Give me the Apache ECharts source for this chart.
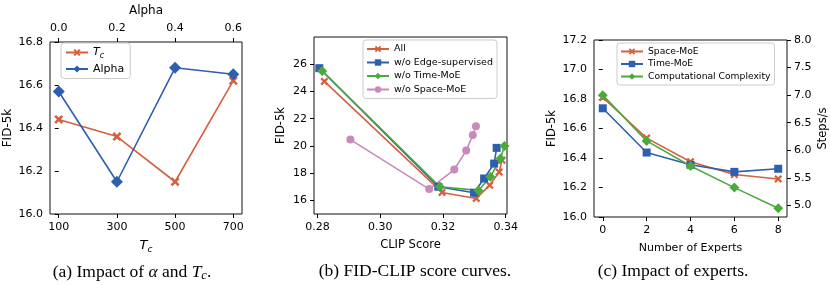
<!DOCTYPE html>
<html><head><meta charset="utf-8">
<script src="https://cdn.jsdelivr.net/npm/echarts@6/dist/echarts.min.js"></script>
<style>html,body{margin:0;padding:0;background:#fff}#c{width:830px;height:285px}</style>
</head><body><div id="c"></div>
<script>
// (a)
const tcX = [100, 300, 500, 700];
const tcY = [16.44, 16.36, 16.15, 16.62];
const alphaX = [0.0, 0.2, 0.4, 0.6];
const alphaY = [16.57, 16.15, 16.68, 16.65];
const aXTicks = [100, 300, 500, 700];
const aTopTicks = [0.0, 0.2, 0.4, 0.6];
// (b)
const allX = [0.2822, 0.3197, 0.3306, 0.3349, 0.3379, 0.3388];
const allY = [24.75, 16.56, 16.12, 17.10, 18.06, 18.94];
const edgeX = [0.2806, 0.3185, 0.3299, 0.3331, 0.3363, 0.3371];
const edgeY = [25.73, 16.98, 16.54, 17.59, 18.69, 19.85];
const timeX = [0.2815, 0.3190, 0.3313, 0.3351, 0.3383, 0.3396];
const timeY = [25.53, 16.98, 16.71, 17.71, 19.06, 19.99];
const spaceX = [0.2905, 0.3156, 0.3236, 0.3274, 0.3295, 0.3305];
const spaceY = [20.46, 16.81, 18.25, 19.65, 20.80, 21.44];
const bXTicks = [0.28, 0.30, 0.32, 0.34];
const bYTicks = [16, 18, 20, 22, 24, 26];
// (c)
const experts = [0, 2, 4, 6, 8];
const spaceMoE = [16.81, 16.535, 16.375, 16.288, 16.258];
const timeMoE = [16.737, 16.437, 16.354, 16.306, 16.327];
const complexity = [7.0, 6.17, 5.715, 5.323, 4.95];
const cRightTicks = [5.0, 5.5, 6.0, 6.5, 7.0, 7.5, 8.0];

const RED = '#d4603f', BLUE = '#2e5fae', GREEN = '#4caa3c', PINK = '#c98ab9';
const FONT = 'DejaVu Sans';
const FS = 11;
const XPATH = 'path://M2,0 L5,3 L8,0 L10,2 L7,5 L10,8 L8,10 L5,7 L2,10 L0,8 L3,5 L0,2 Z';

function zip(a, b) { return a.map((v, i) => [v, b[i]]); }

const lbl = (fmt) => ({ color: '#000', fontFamily: FONT, fontSize: FS, formatter: fmt });
const tick = { show: true, inside: false, length: 4, lineStyle: { color: '#000', width: 1 } };
const noLine = { show: false };

function ser(name, data, color, symbol, size, xi, yi) {
  return {
    type: 'line', name, data, xAxisIndex: xi, yAxisIndex: yi,
    symbol, symbolSize: size, showSymbol: true,
    lineStyle: { color, width: 1.6 }, itemStyle: { color },
    animation: false, z: 3
  };
}

const chart = echarts.init(document.getElementById('c'), null, { renderer: 'canvas' });
const gridBase = { show: true, borderColor: '#111', borderWidth: 1, backgroundColor: 'transparent', containLabel: false };

const capStyle = { fontFamily: 'Liberation Serif', fontSize: 17.5, fontWeight: 'normal', color: '#000' };

const option = {
  animation: false,
  textStyle: { fontFamily: FONT },
  grid: [
    Object.assign({ left: 50, top: 37, width: 192, height: 177 }, gridBase),
    Object.assign({ left: 314, top: 37, width: 193, height: 177 }, gridBase),
    Object.assign({ left: 594, top: 40, width: 195, height: 177 }, gridBase)
  ],
  xAxis: [
    { gridIndex: 0, type: 'value', min: 70, max: 730, position: 'bottom',
      axisLine: noLine, splitLine: noLine,
      axisTick: Object.assign({ customValues: aXTicks }, tick),
      axisLabel: Object.assign({ customValues: aXTicks, margin: 8 }, lbl(v => String(v))),
      name: '{i|T}{s|c}', nameLocation: 'middle', nameGap: 23,
      nameTextStyle: { color: '#000', fontSize: 13, rich: {
        i: { fontStyle: 'italic', fontSize: 13, fontFamily: FONT, color: '#000' },
        s: { fontStyle: 'italic', fontSize: 9, fontFamily: FONT, color: '#000', padding: [8, 0, 0, 0] } } } },
    { gridIndex: 0, type: 'value', min: -0.03, max: 0.63, position: 'top',
      axisLine: noLine, splitLine: noLine,
      axisTick: Object.assign({ customValues: aTopTicks }, tick),
      axisLabel: Object.assign({ customValues: aTopTicks, margin: 8 }, lbl(v => v.toFixed(1))),
      name: 'Alpha', nameLocation: 'middle', nameGap: 25,
      nameTextStyle: { color: '#000', fontSize: 12, fontFamily: FONT } },
    { gridIndex: 1, type: 'value', min: 0.2789, max: 0.3404,
      axisLine: noLine, splitLine: noLine,
      axisTick: Object.assign({ customValues: bXTicks }, tick),
      axisLabel: Object.assign({ customValues: bXTicks, margin: 8 }, lbl(v => v.toFixed(2))),
      name: 'CLIP Score', nameLocation: 'middle', nameGap: 25,
      nameTextStyle: { color: '#000', fontSize: 11.5, fontFamily: FONT } },
    { gridIndex: 2, type: 'value', min: -0.4, max: 8.4,
      axisLine: noLine, splitLine: noLine,
      axisTick: Object.assign({ customValues: experts }, tick),
      axisLabel: Object.assign({ customValues: experts, margin: 8 }, lbl(v => String(v))),
      name: 'Number of Experts', nameLocation: 'middle', nameGap: 26,
      nameTextStyle: { color: '#000', fontSize: FS, fontFamily: FONT } }
  ],
  yAxis: [
    { gridIndex: 0, type: 'value', min: 16.0, max: 16.8, interval: 0.2,
      axisLine: noLine, splitLine: noLine, axisTick: tick,
      axisLabel: Object.assign({ margin: 7 }, lbl(v => v.toFixed(1))),
      name: 'FID-5k', nameLocation: 'middle', nameGap: 36,
      nameTextStyle: { color: '#000', fontSize: 12, fontFamily: FONT } },
    { gridIndex: 1, type: 'value', min: 14.97, max: 28.03,
      axisLine: noLine, splitLine: noLine,
      axisTick: Object.assign({ customValues: bYTicks }, tick),
      axisLabel: Object.assign({ customValues: bYTicks, margin: 7 }, lbl(v => String(v))),
      name: 'FID-5k', nameLocation: 'middle', nameGap: 27,
      nameTextStyle: { color: '#000', fontSize: 11.5, fontFamily: FONT } },
    { gridIndex: 2, type: 'value', min: 16.0, max: 17.2, interval: 0.2,
      axisLine: noLine, splitLine: noLine, axisTick: tick,
      axisLabel: Object.assign({ margin: 7 }, lbl(v => v.toFixed(1))),
      name: 'FID-5k', nameLocation: 'middle', nameGap: 36,
      nameTextStyle: { color: '#000', fontSize: 11.5, fontFamily: FONT } },
    { gridIndex: 2, type: 'value', min: 4.79, max: 8.0, position: 'right',
      axisLine: noLine, splitLine: noLine,
      axisTick: Object.assign({ customValues: cRightTicks }, tick),
      axisLabel: Object.assign({ customValues: cRightTicks, margin: 7 }, lbl(v => v.toFixed(1))),
      name: 'Steps/s', nameLocation: 'middle', nameGap: 30, nameRotate: 90,
      nameTextStyle: { color: '#000', fontSize: 11.5, fontFamily: FONT } }
  ],
  legend: [
    { data: ['Tc', 'Alpha'], left: 61, top: 43, orient: 'vertical', itemGap: 4,
      itemWidth: 22, itemHeight: 9,
      padding: [4, 6, 4, 4], borderColor: '#cccccc', borderWidth: 1, borderRadius: 3,
      backgroundColor: 'rgba(255,255,255,0.8)',
      formatter: n => n === 'Tc' ? '{i|T}{s|c}' : n,
      textStyle: { color: '#000', fontSize: FS, fontFamily: FONT, rich: {
        i: { fontStyle: 'italic', fontSize: FS, fontFamily: FONT },
        s: { fontStyle: 'italic', fontSize: 8, fontFamily: FONT, padding: [6, 0, 0, 0] } } } },
    { data: ['All', 'w/o Edge-supervised', 'w/o Time-MoE', 'w/o Space-MoE'], left: 363, top: 40,
      orient: 'vertical', itemGap: 3.5, itemWidth: 22, itemHeight: 8,
      padding: [4, 4, 4, 3], borderColor: '#cccccc', borderWidth: 1, borderRadius: 3,
      backgroundColor: 'rgba(255,255,255,0.8)',
      textStyle: { color: '#000', fontSize: 9.5, fontFamily: FONT } },
    { data: ['Space-MoE', 'Time-MoE', 'Computational Complexity'], left: 617, top: 43,
      orient: 'vertical', itemGap: 3.5, itemWidth: 22, itemHeight: 8,
      padding: [4, 4, 4, 3], borderColor: '#cccccc', borderWidth: 1, borderRadius: 3,
      backgroundColor: 'rgba(255,255,255,0.8)',
      textStyle: { color: '#000', fontSize: 9.2, fontFamily: FONT } }
  ],
  title: [
    { text: '(a) Impact of {i|α} and {i|T}{s|c}.', left: 127, top: 257, textAlign: 'center',
      textStyle: Object.assign({}, capStyle, {
        rich: { i: { fontFamily: 'Liberation Serif', fontSize: 17.5, fontStyle: 'italic', color: '#000' },
                s: { fontFamily: 'Liberation Serif', fontSize: 12.5, fontStyle: 'italic', color: '#000', padding: [7, 0, 0, 0] } } }) },
    { text: '(b) FID-CLIP score curves.', left: 410, top: 257, textAlign: 'center', textStyle: capStyle },
    { text: '(c) Impact of experts.', left: 668, top: 257, textAlign: 'center', textStyle: capStyle }
  ],
  series: [
    ser('Tc', zip(tcX, tcY), RED, XPATH, 9, 0, 0),
    ser('Alpha', zip(alphaX, alphaY), BLUE, 'diamond', 12, 1, 0),
    ser('All', zip(allX, allY), RED, XPATH, 8, 2, 1),
    ser('w/o Edge-supervised', zip(edgeX, edgeY), BLUE, 'rect', 8, 2, 1),
    ser('w/o Time-MoE', zip(timeX, timeY), GREEN, 'diamond', 10, 2, 1),
    ser('w/o Space-MoE', zip(spaceX, spaceY), PINK, 'circle', 8, 2, 1),
    ser('Space-MoE', zip(experts, spaceMoE), RED, XPATH, 8, 3, 2),
    ser('Time-MoE', zip(experts, timeMoE), BLUE, 'rect', 8, 3, 2),
    ser('Computational Complexity', zip(experts, complexity), GREEN, 'diamond', 10, 3, 3)
  ]
};
chart.setOption(option);
</script>
</body></html>
